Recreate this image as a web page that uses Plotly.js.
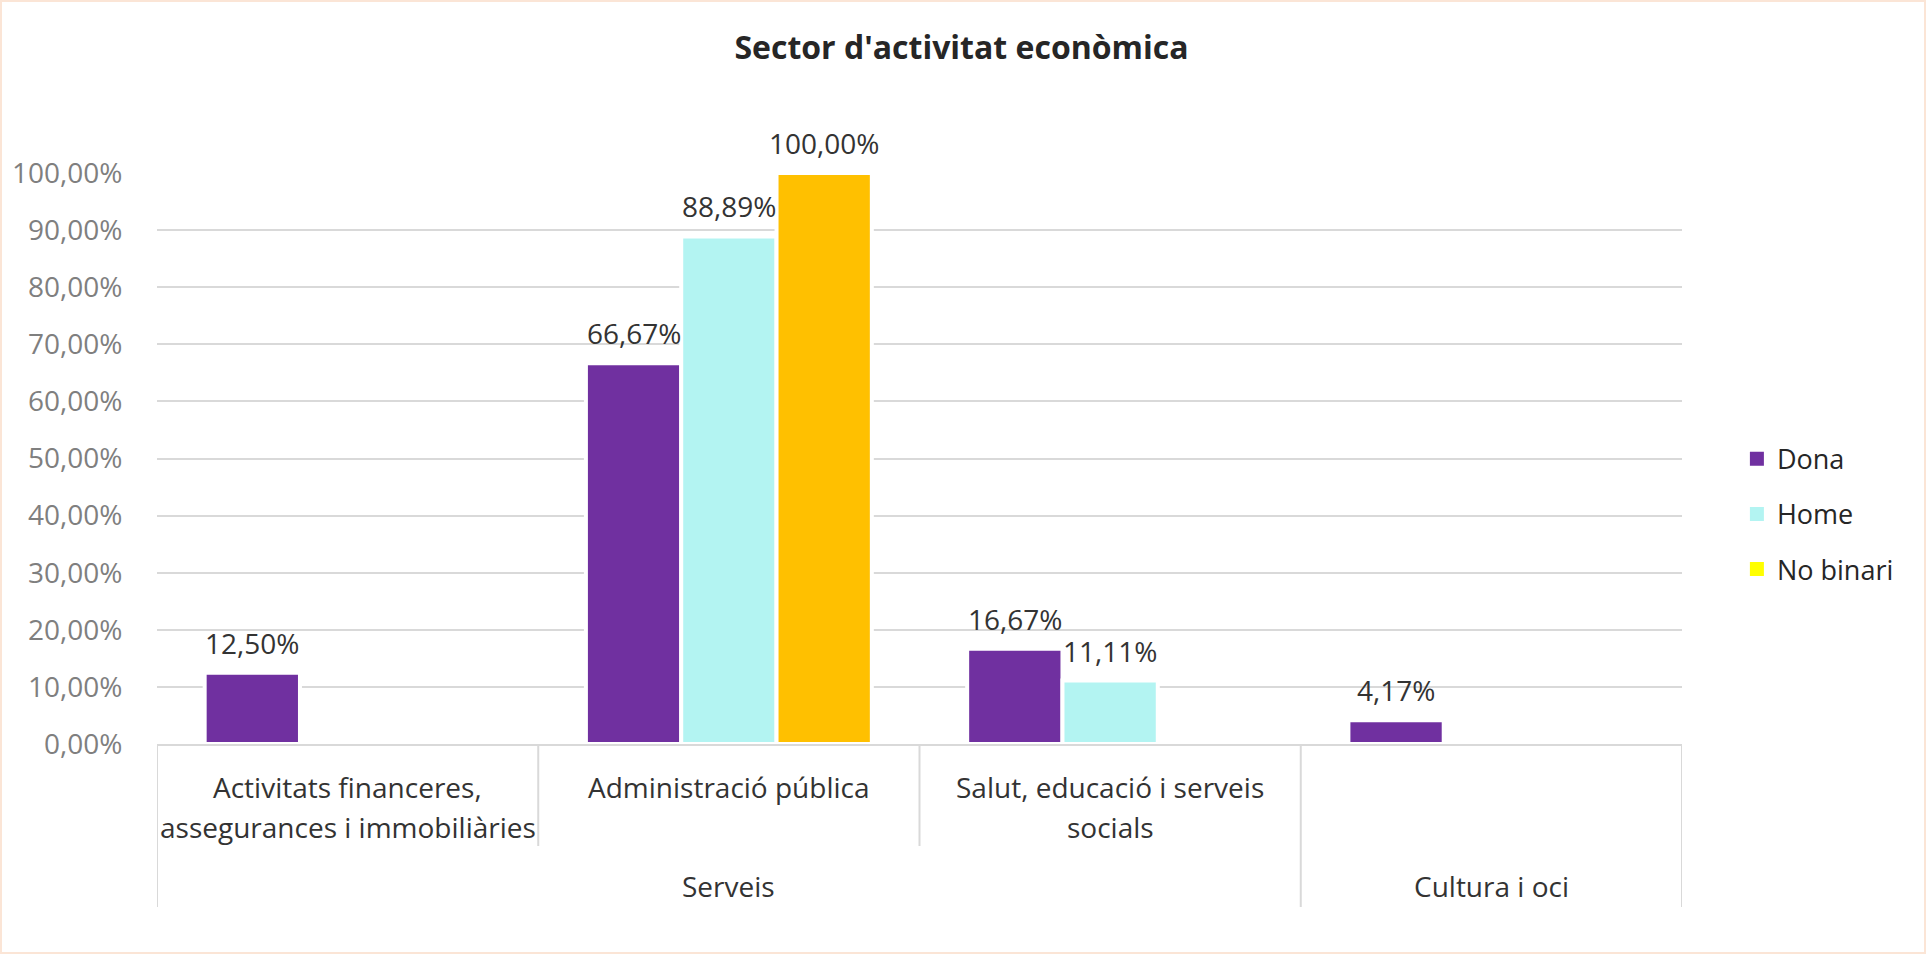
<!DOCTYPE html>
<html>
<head>
<meta charset="utf-8">
<script src="https://cdn.plot.ly/plotly-3.0.1.min.js"></script>
<style>
  html, body { margin: 0; padding: 0; background: #ffffff; }
  #frame { position: absolute; left: 0; top: 0; width: 1922px; height: 950px; border: 2px solid #FBE5D6; background: #ffffff; }
  #chart { width: 1922px; height: 950px; }
</style>
</head>
<body>
<div id="frame"><div id="chart"></div></div>
<script>
// ---- data ----
const categories = [
  "Activitats financeres, assegurances i immobiliàries",
  "Administració pública",
  "Salut, educació i serveis socials",
  "Cultura i oci"
];
const innerLabels = [
  "Activitats financeres,<br>assegurances i immobiliàries",
  "Administració pública",
  "Salut, educació i serveis<br>socials",
  ""
];
const groups = ["Serveis", "Serveis", "Serveis", "Cultura i oci"];
const seriesNames = ["Dona", "Home", "No binari"];
const dona = [0.125, 0.6667, 0.1667, 0.0417];
const home = [null, 0.8889, 0.1111, null];
const noBinari = [null, 1.0, null, null];
const yTicks = [0, 0.1, 0.2, 0.3, 0.4, 0.5, 0.6, 0.7, 0.8, 0.9, 1.0];

// ---- styles ----
const barColors = ["#7030A0", "#B3F4F2", "#FFC000"];
const legendColors = ["#7030A0", "#B3F4F2", "#FFFF00"];
const series = [dona, home, noBinari];
const BARGAP = 0.25;
const FONT = "'Open Sans', 'Noto Sans', sans-serif";
const GRID = "#D9D9D9";

const traces = [];
series.forEach((vals, s) => {
  traces.push({
    type: "bar",
    name: seriesNames[s],
    x: categories,
    y: vals,
    offsetgroup: seriesNames[s],
    legendgroup: seriesNames[s],
    showlegend: false,
    marker: { color: barColors[s], line: { color: "#ffffff", width: 4 } },
    hoverinfo: "skip"
  });
  // legend entry (the reference legend swatch colours, plain squares)
  traces.push({
    type: "bar",
    name: seriesNames[s],
    x: categories,
    y: vals.map(() => null),
    offsetgroup: seriesNames[s],
    legendgroup: seriesNames[s],
    showlegend: true,
    marker: { color: legendColors[s], line: { color: legendColors[s], width: 2 } },
    hoverinfo: "skip"
  });
});

const fmt = v => (v * 100).toFixed(2).replace(".", ",") + "%";

const annotations = [];
const slot = (1 - BARGAP) / series.length;
// data labels
series.forEach((vals, s) => {
  vals.forEach((v, i) => {
    if (v === null) return;
    annotations.push({
      xref: "x", yref: "y",
      x: i + (s - (series.length - 1) / 2) * slot,
      y: v,
      text: fmt(v),
      showarrow: false,
      xanchor: "center", yanchor: "middle",
      yshift: 30,
      font: { family: FONT, size: 28, color: "#333333" }
    });
  });
});
// inner category labels (one annotation per line)
innerLabels.forEach((lab, i) => {
  if (!lab) return;
  lab.split("<br>").forEach((line, k) => {
    annotations.push({
      xref: "x", yref: "paper",
      x: i, y: 0,
      text: line,
      showarrow: false,
      xanchor: "center", yanchor: "middle",
      yshift: -43 - k * 40,
      font: { family: FONT, size: 28, color: "#333333" }
    });
  });
});
// outer group labels
const groupSpans = [];
groups.forEach((g, i) => {
  const last = groupSpans[groupSpans.length - 1];
  if (last && last.name === g) last.end = i;
  else groupSpans.push({ name: g, start: i, end: i });
});
groupSpans.forEach(gs => {
  annotations.push({
    xref: "x", yref: "paper",
    x: (gs.start + gs.end) / 2, y: 0,
    text: gs.name,
    showarrow: false,
    xanchor: "center", yanchor: "middle",
    yshift: -142,
    font: { family: FONT, size: 28, color: "#333333" }
  });
});

// hierarchy divider lines of the category axis
const shapes = [];
for (let i = 0; i <= categories.length; i++) {
  const outer = (i === 0 || i === categories.length || groups[i] !== groups[i - 1]);
  shapes.push({
    type: "line",
    xref: "x", yref: "paper",
    ysizemode: "pixel", yanchor: 0,
    x0: i - 0.5, x1: i - 0.5,
    y0: 0, y1: outer ? -163 : -102,
    line: { color: GRID, width: 2 }
  });
}

const layout = {
  width: 1922, height: 950,
  margin: { l: 155, r: 242, t: 171, b: 208, pad: 0 },
  paper_bgcolor: "#ffffff",
  plot_bgcolor: "#ffffff",
  separators: ",.",
  font: { family: FONT, size: 28, color: "#333333" },
  title: {
    text: "<b>Sector d'activitat econòmica</b>",
    font: { family: FONT, size: 32, color: "#262626" },
    x: 0.4992, xanchor: "center", xref: "container",
    y: 0.952, yanchor: "middle", yref: "container"
  },
  barmode: "group",
  bargap: BARGAP,
  bargroupgap: 0,
  xaxis: {
    type: "category",
    categoryorder: "array",
    categoryarray: categories,
    range: [-0.5, categories.length - 0.5],
    showticklabels: false,
    ticks: "",
    showgrid: false,
    zeroline: false,
    showline: true,
    linecolor: GRID,
    linewidth: 2,
    fixedrange: true
  },
  yaxis: {
    range: [0, 1],
    tickmode: "array",
    tickvals: yTicks,
    tickformat: ".2%",
    ticks: "outside",
    ticklen: 28,
    tickcolor: "rgba(0,0,0,0)",
    tickfont: { family: FONT, size: 28, color: "#7F7F7F" },
    showgrid: true,
    gridcolor: GRID,
    gridwidth: 2,
    zeroline: false,
    showline: false,
    fixedrange: true
  },
  showlegend: true,
  legend: {
    x: 1.036, xanchor: "left",
    y: 0.5415, yanchor: "top",
    font: { family: FONT, size: 27, color: "#262626" },
    tracegroupgap: 17,
    bgcolor: "rgba(0,0,0,0)",
    borderwidth: 0
  },
  annotations: annotations,
  shapes: shapes,
  hovermode: false
};

Plotly.newPlot("chart", traces, layout, { displayModeBar: false, staticPlot: true });
</script>
</body>
</html>
